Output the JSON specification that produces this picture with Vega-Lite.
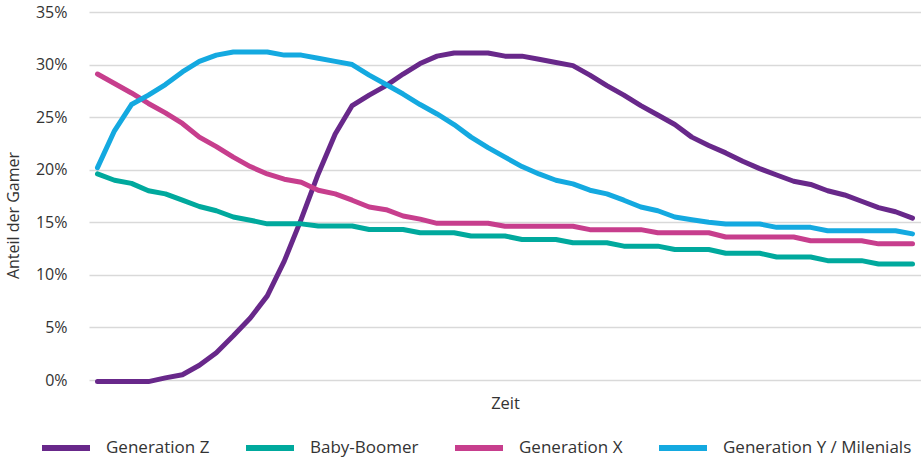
{
 "$schema": "https://vega.github.io/schema/vega-lite/v6.json",
 "width": 832, "height": 368,
 "autosize": {"type": "none"},
 "padding": {"left": 89, "top": 12, "right": 0, "bottom": 79},
 "background": "white",
 "config": {"view": {"stroke": null}, "font": "Open Sans"},
 "data": {"values": [
{"t":0,"g":"Generation Z","v":-0.15},{"t":1,"g":"Generation Z","v":-0.15},{"t":2,"g":"Generation Z","v":-0.15},{"t":3,"g":"Generation Z","v":-0.15},{"t":4,"g":"Generation Z","v":0.2},{"t":5,"g":"Generation Z","v":0.5},{"t":6,"g":"Generation Z","v":1.4},{"t":7,"g":"Generation Z","v":2.6},{"t":8,"g":"Generation Z","v":4.2},{"t":9,"g":"Generation Z","v":5.9},{"t":10,"g":"Generation Z","v":8.0},{"t":11,"g":"Generation Z","v":11.3},{"t":12,"g":"Generation Z","v":15.3},{"t":13,"g":"Generation Z","v":19.6},{"t":14,"g":"Generation Z","v":23.4},{"t":15,"g":"Generation Z","v":26.1},{"t":16,"g":"Generation Z","v":27.1},{"t":17,"g":"Generation Z","v":28.0},{"t":18,"g":"Generation Z","v":29.1},{"t":19,"g":"Generation Z","v":30.1},{"t":20,"g":"Generation Z","v":30.8},{"t":21,"g":"Generation Z","v":31.1},{"t":22,"g":"Generation Z","v":31.1},{"t":23,"g":"Generation Z","v":31.1},{"t":24,"g":"Generation Z","v":30.8},{"t":25,"g":"Generation Z","v":30.8},{"t":26,"g":"Generation Z","v":30.5},{"t":27,"g":"Generation Z","v":30.2},{"t":28,"g":"Generation Z","v":29.9},{"t":29,"g":"Generation Z","v":29.0},{"t":30,"g":"Generation Z","v":28.0},{"t":31,"g":"Generation Z","v":27.1},{"t":32,"g":"Generation Z","v":26.1},{"t":33,"g":"Generation Z","v":25.2},{"t":34,"g":"Generation Z","v":24.3},{"t":35,"g":"Generation Z","v":23.1},{"t":36,"g":"Generation Z","v":22.3},{"t":37,"g":"Generation Z","v":21.6},{"t":38,"g":"Generation Z","v":20.8},{"t":39,"g":"Generation Z","v":20.1},{"t":40,"g":"Generation Z","v":19.5},{"t":41,"g":"Generation Z","v":18.9},{"t":42,"g":"Generation Z","v":18.6},{"t":43,"g":"Generation Z","v":18.0},{"t":44,"g":"Generation Z","v":17.6},{"t":45,"g":"Generation Z","v":17.0},{"t":46,"g":"Generation Z","v":16.4},{"t":47,"g":"Generation Z","v":16.0},{"t":48,"g":"Generation Z","v":15.4},
{"t":0,"g":"Baby-Boomer","v":19.6},{"t":1,"g":"Baby-Boomer","v":19.0},{"t":2,"g":"Baby-Boomer","v":18.7},{"t":3,"g":"Baby-Boomer","v":18.0},{"t":4,"g":"Baby-Boomer","v":17.7},{"t":5,"g":"Baby-Boomer","v":17.1},{"t":6,"g":"Baby-Boomer","v":16.5},{"t":7,"g":"Baby-Boomer","v":16.1},{"t":8,"g":"Baby-Boomer","v":15.5},{"t":9,"g":"Baby-Boomer","v":15.2},{"t":10,"g":"Baby-Boomer","v":14.85},{"t":11,"g":"Baby-Boomer","v":14.85},{"t":12,"g":"Baby-Boomer","v":14.85},{"t":13,"g":"Baby-Boomer","v":14.64},{"t":14,"g":"Baby-Boomer","v":14.64},{"t":15,"g":"Baby-Boomer","v":14.64},{"t":16,"g":"Baby-Boomer","v":14.32},{"t":17,"g":"Baby-Boomer","v":14.32},{"t":18,"g":"Baby-Boomer","v":14.32},{"t":19,"g":"Baby-Boomer","v":14.0},{"t":20,"g":"Baby-Boomer","v":14.0},{"t":21,"g":"Baby-Boomer","v":14.0},{"t":22,"g":"Baby-Boomer","v":13.69},{"t":23,"g":"Baby-Boomer","v":13.69},{"t":24,"g":"Baby-Boomer","v":13.69},{"t":25,"g":"Baby-Boomer","v":13.37},{"t":26,"g":"Baby-Boomer","v":13.37},{"t":27,"g":"Baby-Boomer","v":13.37},{"t":28,"g":"Baby-Boomer","v":13.05},{"t":29,"g":"Baby-Boomer","v":13.05},{"t":30,"g":"Baby-Boomer","v":13.05},{"t":31,"g":"Baby-Boomer","v":12.73},{"t":32,"g":"Baby-Boomer","v":12.73},{"t":33,"g":"Baby-Boomer","v":12.73},{"t":34,"g":"Baby-Boomer","v":12.41},{"t":35,"g":"Baby-Boomer","v":12.41},{"t":36,"g":"Baby-Boomer","v":12.41},{"t":37,"g":"Baby-Boomer","v":12.05},{"t":38,"g":"Baby-Boomer","v":12.05},{"t":39,"g":"Baby-Boomer","v":12.05},{"t":40,"g":"Baby-Boomer","v":11.7},{"t":41,"g":"Baby-Boomer","v":11.7},{"t":42,"g":"Baby-Boomer","v":11.7},{"t":43,"g":"Baby-Boomer","v":11.35},{"t":44,"g":"Baby-Boomer","v":11.35},{"t":45,"g":"Baby-Boomer","v":11.35},{"t":46,"g":"Baby-Boomer","v":11.03},{"t":47,"g":"Baby-Boomer","v":11.03},{"t":48,"g":"Baby-Boomer","v":11.03},
{"t":0,"g":"Generation X","v":29.1},{"t":1,"g":"Generation X","v":28.2},{"t":2,"g":"Generation X","v":27.3},{"t":3,"g":"Generation X","v":26.3},{"t":4,"g":"Generation X","v":25.4},{"t":5,"g":"Generation X","v":24.4},{"t":6,"g":"Generation X","v":23.1},{"t":7,"g":"Generation X","v":22.2},{"t":8,"g":"Generation X","v":21.2},{"t":9,"g":"Generation X","v":20.3},{"t":10,"g":"Generation X","v":19.6},{"t":11,"g":"Generation X","v":19.1},{"t":12,"g":"Generation X","v":18.8},{"t":13,"g":"Generation X","v":18.05},{"t":14,"g":"Generation X","v":17.7},{"t":15,"g":"Generation X","v":17.1},{"t":16,"g":"Generation X","v":16.45},{"t":17,"g":"Generation X","v":16.2},{"t":18,"g":"Generation X","v":15.6},{"t":19,"g":"Generation X","v":15.3},{"t":20,"g":"Generation X","v":14.9},{"t":21,"g":"Generation X","v":14.9},{"t":22,"g":"Generation X","v":14.9},{"t":23,"g":"Generation X","v":14.9},{"t":24,"g":"Generation X","v":14.62},{"t":25,"g":"Generation X","v":14.62},{"t":26,"g":"Generation X","v":14.62},{"t":27,"g":"Generation X","v":14.62},{"t":28,"g":"Generation X","v":14.62},{"t":29,"g":"Generation X","v":14.3},{"t":30,"g":"Generation X","v":14.3},{"t":31,"g":"Generation X","v":14.3},{"t":32,"g":"Generation X","v":14.3},{"t":33,"g":"Generation X","v":14.0},{"t":34,"g":"Generation X","v":14.0},{"t":35,"g":"Generation X","v":14.0},{"t":36,"g":"Generation X","v":14.0},{"t":37,"g":"Generation X","v":13.6},{"t":38,"g":"Generation X","v":13.6},{"t":39,"g":"Generation X","v":13.6},{"t":40,"g":"Generation X","v":13.6},{"t":41,"g":"Generation X","v":13.6},{"t":42,"g":"Generation X","v":13.25},{"t":43,"g":"Generation X","v":13.25},{"t":44,"g":"Generation X","v":13.25},{"t":45,"g":"Generation X","v":13.25},{"t":46,"g":"Generation X","v":12.95},{"t":47,"g":"Generation X","v":12.95},{"t":48,"g":"Generation X","v":12.95},
{"t":0,"g":"Generation Y / Milenials","v":20.2},{"t":1,"g":"Generation Y / Milenials","v":23.7},{"t":2,"g":"Generation Y / Milenials","v":26.2},{"t":3,"g":"Generation Y / Milenials","v":27.1},{"t":4,"g":"Generation Y / Milenials","v":28.1},{"t":5,"g":"Generation Y / Milenials","v":29.3},{"t":6,"g":"Generation Y / Milenials","v":30.3},{"t":7,"g":"Generation Y / Milenials","v":30.9},{"t":8,"g":"Generation Y / Milenials","v":31.2},{"t":9,"g":"Generation Y / Milenials","v":31.2},{"t":10,"g":"Generation Y / Milenials","v":31.2},{"t":11,"g":"Generation Y / Milenials","v":30.9},{"t":12,"g":"Generation Y / Milenials","v":30.9},{"t":13,"g":"Generation Y / Milenials","v":30.6},{"t":14,"g":"Generation Y / Milenials","v":30.3},{"t":15,"g":"Generation Y / Milenials","v":30.0},{"t":16,"g":"Generation Y / Milenials","v":29.0},{"t":17,"g":"Generation Y / Milenials","v":28.1},{"t":18,"g":"Generation Y / Milenials","v":27.2},{"t":19,"g":"Generation Y / Milenials","v":26.2},{"t":20,"g":"Generation Y / Milenials","v":25.3},{"t":21,"g":"Generation Y / Milenials","v":24.3},{"t":22,"g":"Generation Y / Milenials","v":23.1},{"t":23,"g":"Generation Y / Milenials","v":22.1},{"t":24,"g":"Generation Y / Milenials","v":21.2},{"t":25,"g":"Generation Y / Milenials","v":20.3},{"t":26,"g":"Generation Y / Milenials","v":19.6},{"t":27,"g":"Generation Y / Milenials","v":19.0},{"t":28,"g":"Generation Y / Milenials","v":18.65},{"t":29,"g":"Generation Y / Milenials","v":18.05},{"t":30,"g":"Generation Y / Milenials","v":17.7},{"t":31,"g":"Generation Y / Milenials","v":17.1},{"t":32,"g":"Generation Y / Milenials","v":16.45},{"t":33,"g":"Generation Y / Milenials","v":16.1},{"t":34,"g":"Generation Y / Milenials","v":15.5},{"t":35,"g":"Generation Y / Milenials","v":15.25},{"t":36,"g":"Generation Y / Milenials","v":15.0},{"t":37,"g":"Generation Y / Milenials","v":14.84},{"t":38,"g":"Generation Y / Milenials","v":14.84},{"t":39,"g":"Generation Y / Milenials","v":14.84},{"t":40,"g":"Generation Y / Milenials","v":14.52},{"t":41,"g":"Generation Y / Milenials","v":14.52},{"t":42,"g":"Generation Y / Milenials","v":14.52},{"t":43,"g":"Generation Y / Milenials","v":14.2},{"t":44,"g":"Generation Y / Milenials","v":14.2},{"t":45,"g":"Generation Y / Milenials","v":14.2},{"t":46,"g":"Generation Y / Milenials","v":14.2},{"t":47,"g":"Generation Y / Milenials","v":14.2},{"t":48,"g":"Generation Y / Milenials","v":13.9}
 ]},
 "mark": {"type": "line", "strokeWidth": 5, "strokeCap": "round", "strokeJoin": "round"},
 "encoding": {
  "x": {"field": "t", "type": "quantitative",
   "scale": {"domain": [-0.5, 48.5], "nice": false, "zero": false},
   "axis": {"title": "Zeit", "labels": false, "ticks": false, "domain": false, "grid": false,
    "titleFontSize": 16.5, "titleFontWeight": "normal", "titleColor": "#333333", "titleY": 15, "titleBaseline": "top"}},
  "y": {"field": "v", "type": "quantitative",
   "scale": {"domain": [0, 35], "nice": false},
   "axis": {"values": [0, 5, 10, 15, 20, 25, 30, 35], "labelExpr": "datum.value + '%'",
    "title": "Anteil der Gamer", "ticks": false, "domain": false,
    "gridColor": "#d9d9d9", "gridWidth": 1.3, "labelPadding": 22, "labelFontSize": 16, "labelColor": "#333333",
    "titleFontSize": 16, "titleFontWeight": "normal", "titleColor": "#333333", "titleX": -68, "titleY": 203}},
  "color": {"field": "g", "type": "nominal",
   "scale": {"domain": ["Generation Z", "Baby-Boomer", "Generation X", "Generation Y / Milenials"],
    "range": ["#68288a", "#00a99d", "#c73e8d", "#14a9e0"]},
   "legend": {"orient": "none", "legendX": -50, "legendY": 409, "direction": "horizontal", "columns": 4,
    "title": null, "symbolType": "stroke", "symbolSize": 2304, "symbolStrokeWidth": 6, "labelLimit": 0,
    "labelFontSize": 17, "labelOffset": 13, "columnPadding": 24, "labelColor": "#333333"}}
 }
}
